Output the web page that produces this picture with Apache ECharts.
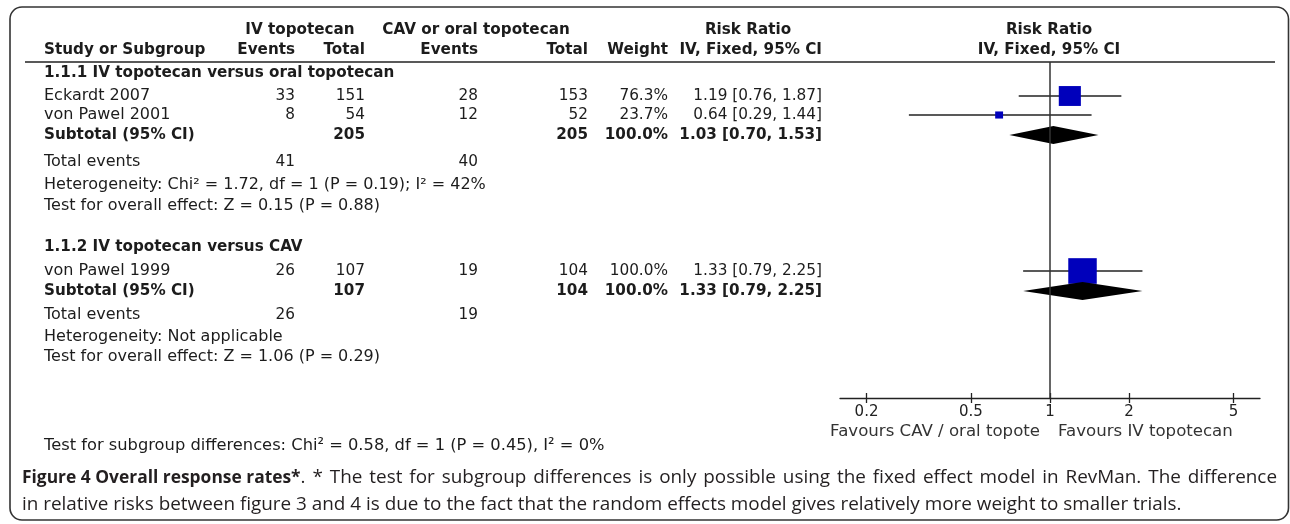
<!DOCTYPE html>
<html>
<head>
<meta charset="utf-8">
<script src="https://cdn.jsdelivr.net/npm/echarts@6/dist/echarts.min.js"></script>
<style>
  html, body { margin: 0; padding: 0; background: #fff; }
  #chart { width: 1290px; height: 524px; }
</style>
</head>
<body>
<div id="chart"></div>
<script>
// ---- data ----
var studyNames = ['Eckardt 2007', 'von Pawel 2001', 'von Pawel 1999'];
var ivEvents = [33, 8, 26];
var ivTotal = [151, 54, 107];
var cavEvents = [28, 12, 19];
var cavTotal = [153, 52, 104];
var weights = [76.3, 23.7, 100.0];
var rr = [1.19, 0.64, 1.33];
var rrLow = [0.76, 0.29, 0.79];
var rrHigh = [1.87, 1.44, 2.25];

var groupNames = ['1.1.1 IV topotecan versus oral topotecan', '1.1.2 IV topotecan versus CAV'];
var groupIvTotal = [205, 107];
var groupCavTotal = [205, 104];
var groupWeight = [100.0, 100.0];
var groupRR = [1.03, 1.33];
var groupLow = [0.70, 0.79];
var groupHigh = [1.53, 2.25];
var groupIvEvents = [41, 26];
var groupCavEvents = [40, 19];
var heterogeneity = ['Heterogeneity: Chi² = 1.72, df = 1 (P = 0.19); I² = 42%', 'Heterogeneity: Not applicable'];
var overallEffect = ['Test for overall effect: Z = 0.15 (P = 0.88)', 'Test for overall effect: Z = 1.06 (P = 0.29)'];
var subgroupTest = 'Test for subgroup differences: Chi² = 0.58, df = 1 (P = 0.45), I² = 0%';

var tickValues = [0.2, 0.5, 1, 2, 5];

var captionTitle = 'Figure 4 Overall response rates*';
var captionLine1 = '. * The test for subgroup differences is only possible using the fixed effect model in RevMan. The difference';
var captionLine2 = 'in relative risks between figure 3 and 4 is due to the fact that the random effects model gives relatively more weight to smaller trials.';

// ---- layout (row slots on the y axis, column x in px) ----
var rowPos = {
  group: [0.55, 9.25],
  study: [1.7, 2.65, 10.45],
  subtotal: [3.65, 11.45],
  events: [5.0, 12.65],
  het: [6.15, 13.75],
  overall: [7.2, 14.75]
};
var studyGroup = [0, 0, 1];
var col = { label: 44, ivEv: 295, ivTot: 365, cavEv: 478, cavTot: 588, weight: 668, ci: 822 };

var FONT = '16px "DejaVu Sans", sans-serif';
var NUM = '15.3px "DejaVu Sans", sans-serif';
var BOLD = 'bold 15.2px "DejaVu Sans", sans-serif';
var CAP = '18.9px "Open Sans", sans-serif';
var CAP_BOLD = 'bold 17.4px "Open Sans", sans-serif';
var INK = '#1c1c1c';

function ci(m, l, h) {
  return m.toFixed(2) + ' [' + l.toFixed(2) + ', ' + h.toFixed(2) + ']';
}
function cell(text, x, align, bold) {
  return { text: String(text), x: x, align: align, bold: !!bold };
}

// table rows, drawn on the same y axis as the forest marks
var tableRows = [];
groupNames.forEach(function (g, gi) {
  tableRows.push({ y: rowPos.group[gi], cells: [cell(g, col.label, 'left', true)] });
  studyNames.forEach(function (s, i) {
    if (studyGroup[i] !== gi) return;
    tableRows.push({ y: rowPos.study[i], cells: [
      cell(s, col.label, 'left'),
      cell(ivEvents[i], col.ivEv, 'right'),
      cell(ivTotal[i], col.ivTot, 'right'),
      cell(cavEvents[i], col.cavEv, 'right'),
      cell(cavTotal[i], col.cavTot, 'right'),
      cell(weights[i].toFixed(1) + '%', col.weight, 'right'),
      cell(ci(rr[i], rrLow[i], rrHigh[i]), col.ci, 'right')
    ] });
  });
  tableRows.push({ y: rowPos.subtotal[gi], cells: [
    cell('Subtotal (95% CI)', col.label, 'left', true),
    cell(groupIvTotal[gi], col.ivTot, 'right', true),
    cell(groupCavTotal[gi], col.cavTot, 'right', true),
    cell(groupWeight[gi].toFixed(1) + '%', col.weight, 'right', true),
    cell(ci(groupRR[gi], groupLow[gi], groupHigh[gi]), col.ci, 'right', true)
  ] });
  tableRows.push({ y: rowPos.events[gi], cells: [
    cell('Total events', col.label, 'left'),
    cell(groupIvEvents[gi], col.ivEv, 'right'),
    cell(groupCavEvents[gi], col.cavEv, 'right')
  ] });
  tableRows.push({ y: rowPos.het[gi], cells: [cell(heterogeneity[gi], col.label, 'left')] });
  tableRows.push({ y: rowPos.overall[gi], cells: [cell(overallEffect[gi], col.label, 'left')] });
});

var studyData = studyNames.map(function (s, i) {
  return [Math.log10(rrLow[i]), Math.log10(rrHigh[i]), Math.log10(rr[i]), rowPos.study[i], weights[i]];
});
var groupData = groupNames.map(function (g, i) {
  return [Math.log10(groupLow[i]), Math.log10(groupHigh[i]), Math.log10(groupRR[i]), rowPos.subtotal[i]];
});
var logTicks = tickValues.map(function (v) { return Math.log10(v); });

function txt(text, x, y, align, bold, extra) {
  var o = {
    type: 'text', x: x, y: y, silent: true,
    style: {
      text: text, font: bold ? BOLD : FONT, fill: INK,
      align: align, textAlign: align, verticalAlign: 'middle', textVerticalAlign: 'middle'
    }
  };
  if (extra) Object.assign(o.style, extra);
  return o;
}

// first caption line is justified between x0 and x1, word by word
function justifiedCaption(x0, x1, y) {
  var ctx = document.createElement('canvas').getContext('2d');
  ctx.font = CAP_BOLD;
  var titleW = ctx.measureText(captionTitle).width;
  ctx.font = CAP;
  var words = captionLine1.split(' ');
  var first = words.shift(); // '.' glued to the title
  var firstW = ctx.measureText(first).width;
  var widths = words.map(function (w) { return ctx.measureText(w).width; });
  var total = titleW + firstW + widths.reduce(function (a, b) { return a + b; }, 0);
  var gap = (x1 - x0 - total) / words.length;
  var out = [
    txt(captionTitle, x0, y, 'left', false, { font: CAP_BOLD, fill: '#231f20' }),
    txt(first, x0 + titleW, y, 'left', false, { font: CAP, fill: '#231f20' })
  ];
  var x = x0 + titleW + firstW;
  words.forEach(function (w, i) {
    x += gap;
    out.push(txt(w, x, y, 'left', false, { font: CAP, fill: '#231f20' }));
    x += widths[i];
  });
  return out;
}

var chart = echarts.init(document.getElementById('chart'));
var option = {
  animation: false,
  backgroundColor: '#fff',
  grid: { left: 840, width: 420, top: 62, bottom: 126 },
  xAxis: [
    {
      type: 'value', min: -0.8, max: 0.8, position: 'bottom',
      axisLine: { onZero: false, lineStyle: { color: '#222', width: 1.3 } },
      axisTick: { customValues: logTicks, length: 5, lineStyle: { color: '#222', width: 1.3 } },
      axisLabel: {
        customValues: logTicks, margin: 7, color: '#222',
        fontFamily: 'DejaVu Sans', fontSize: 15,
        formatter: function (v) { return String(parseFloat(Math.pow(10, v).toFixed(1))); }
      },
      splitLine: { show: false }
    },
    {
      type: 'value', min: -0.8, max: 0.8, position: 'bottom',
      axisLine: { show: false, onZero: false },
      axisTick: { customValues: logTicks, inside: true, length: 5, lineStyle: { color: '#222', width: 1.3 } },
      axisLabel: { show: false },
      splitLine: { show: false }
    }
  ],
  yAxis: { type: 'value', min: 0, max: 16.8, inverse: true, show: false },
  series: [
    {
      name: 'table', type: 'custom', clip: false, silent: true,
      data: tableRows.map(function (r) { return [0, r.y]; }),
      encode: { x: 0, y: 1 },
      renderItem: function (params, api) {
        var row = tableRows[params.dataIndex];
        var y = api.coord([0, api.value(1)])[1];
        return {
          type: 'group',
          children: row.cells.map(function (c) {
            var f = c.bold ? BOLD : (c.align === 'left' ? FONT : NUM);
            return {
              type: 'text', x: c.x, y: y,
              style: {
                text: c.text, font: f, fill: INK,
                align: c.align, textAlign: c.align, verticalAlign: 'middle', textVerticalAlign: 'middle'
              }
            };
          })
        };
      }
    },
    {
      name: 'studies', type: 'custom', clip: false, silent: true, z: 3,
      data: studyData,
      encode: { x: [0, 1, 2], y: 3 },
      renderItem: function (params, api) {
        var lo = api.coord([api.value(0), api.value(3)]);
        var hi = api.coord([api.value(1), api.value(3)]);
        var c = api.coord([api.value(2), api.value(3)]);
        var w = 0.27 * api.value(4) + 1.5, h = w * 0.9;
        return {
          type: 'group',
          children: [
            { type: 'line', shape: { x1: lo[0], y1: lo[1], x2: hi[0], y2: hi[1] }, style: { stroke: '#222', lineWidth: 1.3 } },
            { type: 'rect', shape: { x: c[0] - w / 2, y: c[1] - h / 2, width: w, height: h }, style: { fill: '#0000BB' } }
          ]
        };
      },
      markLine: {
        silent: true, symbol: 'none', label: { show: false },
        lineStyle: { color: '#333', width: 1.5, type: 'solid' },
        data: [{ xAxis: 0 }]
      }
    },
    {
      name: 'subtotals', type: 'custom', clip: false, silent: true, z: 4,
      data: groupData,
      encode: { x: [0, 1, 2], y: 3 },
      renderItem: function (params, api) {
        var lo = api.coord([api.value(0), api.value(3)]);
        var hi = api.coord([api.value(1), api.value(3)]);
        var c = api.coord([api.value(2), api.value(3)]);
        return {
          type: 'polygon',
          shape: { points: [[lo[0], c[1]], [c[0], c[1] - 9], [hi[0], c[1]], [c[0], c[1] + 9]] },
          style: { fill: '#000' }
        };
      }
    }
  ],
  graphic: [
    { type: 'rect', silent: true, shape: { x: 10, y: 7, width: 1278.5, height: 513, r: 12 },
      style: { fill: 'none', stroke: '#333', lineWidth: 1.6 } },
    { type: 'line', silent: true, shape: { x1: 25, y1: 62, x2: 1275, y2: 62 },
      style: { stroke: '#222', lineWidth: 1.5 } },
    txt('IV topotecan', 300, 30, 'center', true),
    txt('CAV or oral topotecan', 476, 30, 'center', true),
    txt('Risk Ratio', 748, 30, 'center', true),
    txt('Risk Ratio', 1049, 30, 'center', true),
    txt('Study or Subgroup', 44, 50, 'left', true),
    txt('Events', col.ivEv, 50, 'right', true),
    txt('Total', col.ivTot, 50, 'right', true),
    txt('Events', col.cavEv, 50, 'right', true),
    txt('Total', col.cavTot, 50, 'right', true),
    txt('Weight', col.weight, 50, 'right', true),
    txt('IV, Fixed, 95% CI', col.ci, 50, 'right', true),
    txt('IV, Fixed, 95% CI', 1049, 50, 'center', true),
    txt('Favours CAV / oral topote', 1040, 432, 'right', false, { font: '16.6px "DejaVu Sans", sans-serif', fill: '#333' }),
    txt('Favours IV topotecan', 1058, 432, 'left', false, { font: '16.6px "DejaVu Sans", sans-serif', fill: '#333' }),
    txt(subgroupTest, 44, 446, 'left', false, { font: '16.3px "DejaVu Sans", sans-serif' }),
    txt(captionLine2, 22, 505, 'left', false, { font: CAP, fill: '#231f20' })
  ].concat(justifiedCaption(22, 1277, 478))
};
chart.setOption(option);
</script>
</body>
</html>
